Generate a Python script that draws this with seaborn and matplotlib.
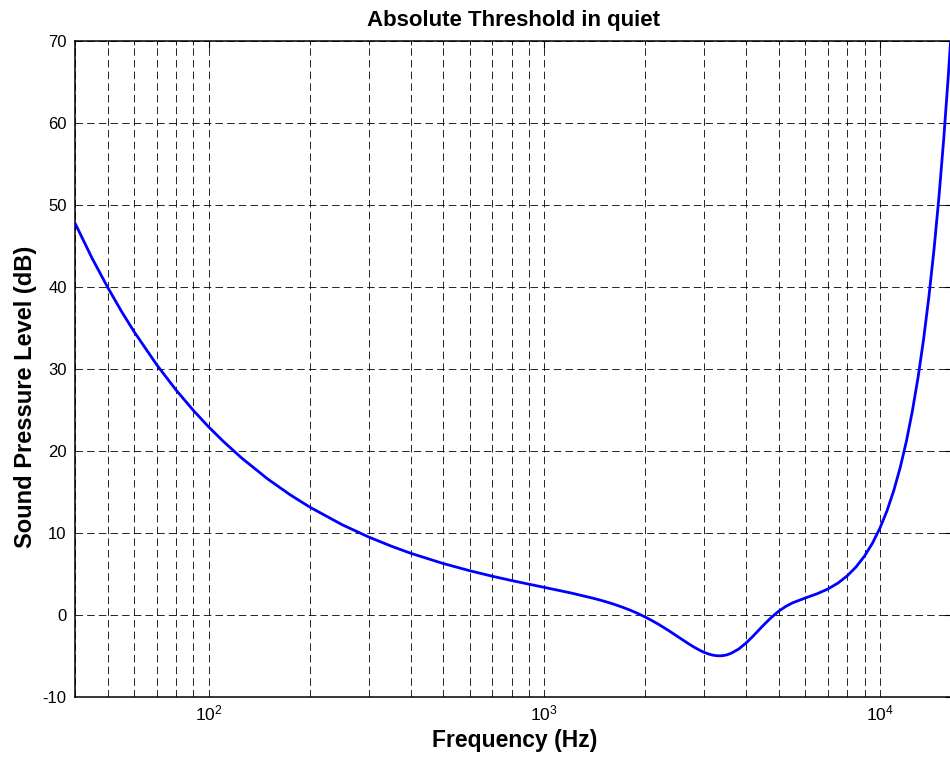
import matplotlib
matplotlib.use("Agg")
import matplotlib.pyplot as plt
import matplotlib.ticker as mticker
import seaborn as sns
import pandas as pd

# Frequencies (Hz) and threshold values (dB SPL)
freq_hz = [40, 45, 50, 55, 60, 70, 80, 90, 100, 110, 125, 150, 175, 200, 250,
           300, 350, 400, 500, 600, 700, 800, 900, 1000, 1200, 1400, 1500, 1600,
           1700, 1800, 1900, 2000, 2100, 2200, 2350, 2500, 2600, 2700, 2800,
           2900, 3000, 3100, 3200, 3300, 3400, 3500, 3600, 3800, 4000, 4200,
           4500, 4750, 5000, 5250, 5500, 6000, 6500, 7000, 7500, 8000, 8500,
           9000, 9500, 10000, 10500, 11000, 11500, 12000, 12500, 13000, 13500,
           14000, 14500, 15000, 15500, 16000, 16200, 16400]
threshold_db = [47.79, 43.49, 39.99, 37.04, 34.55, 30.54, 27.44, 24.97, 22.95,
                21.27, 19.20, 16.59, 14.66, 13.17, 11.01, 9.51, 8.40, 7.53, 6.28,
                5.40, 4.73, 4.20, 3.76, 3.37, 2.69, 2.04, 1.71, 1.36, 0.99, 0.60,
                0.19, -0.25, -0.71, -1.18, -1.91, -2.64, -3.10, -3.54, -3.94,
                -4.28, -4.57, -4.78, -4.92, -4.98, -4.96, -4.86, -4.68, -4.14,
                -3.39, -2.53, -1.24, -0.29, 0.48, 1.06, 1.49, 2.08, 2.59, 3.17,
                3.89, 4.79, 5.88, 7.19, 8.75, 10.58, 12.71, 15.18, 18.01, 21.23,
                24.90, 29.03, 33.67, 38.86, 44.63, 51.04, 58.13, 65.93, 69.27,
                72.73]

y_ticks = [-10, 0, 10, 20, 30, 40, 50, 60, 70]
title = "Absolute Threshold in quiet"
x_label = "Frequency (Hz)"
y_label = "Sound Pressure Level (dB)"

sns.set_style("white")
plt.rcParams['font.family'] = ['Liberation Sans', 'DejaVu Sans']
plt.rcParams['axes.unicode_minus'] = False
plt.rcParams['text.color'] = 'black'
plt.rcParams['xtick.color'] = 'black'
plt.rcParams['ytick.color'] = 'black'
plt.rcParams['axes.labelcolor'] = 'black'

df = pd.DataFrame({"f": freq_hz, "t": threshold_db})

W, H = 950, 760
left, right, top, bottom = 75, 952, 41, 697
fig = plt.figure(figsize=(W / 100, H / 100), dpi=100)
ax = fig.add_axes([left / W, 1 - bottom / H, (right - left) / W, (bottom - top) / H])
sns.lineplot(data=df, x="f", y="t", ax=ax, color=(0, 0, 1), linewidth=2.0, zorder=3)
ax.set_xscale("log")
ax.set_xlim(40, 16400)
ax.set_ylim(-10, 70)
ax.set_yticks(y_ticks)
ax.xaxis.set_major_locator(mticker.LogLocator(base=10, numticks=10))
ax.xaxis.set_minor_locator(mticker.LogLocator(base=10, subs=range(2, 10), numticks=20))
ax.xaxis.set_minor_formatter(mticker.NullFormatter())

dash = (0, (9, 5))
ax.grid(True, which="major", axis="both", color="black", linestyle=dash, linewidth=0.6)
ax.grid(True, which="minor", axis="x", color="black", linestyle=dash, linewidth=0.6)
ax.set_axisbelow(True)

ax.tick_params(axis="both", which="both", direction="in", labelsize=12, color="black",
               top=True, right=True, pad=6)
ax.tick_params(axis="x", which="major", labelsize=12.5, pad=5)
ax.tick_params(axis="both", which="major", length=5)
ax.tick_params(axis="x", which="minor", length=3)
for s in ax.spines.values():
    s.set_visible(True)
    s.set_color("black")
    s.set_linewidth(1.1)

ax.set_title(title, fontsize=16, fontweight="bold", pad=10.5)
ax.set_xlabel(x_label, fontsize=16.5, fontweight="bold")
ax.set_ylabel(y_label, fontsize=17, fontweight="bold")
ax.xaxis.set_label_coords((514.5 - left) / (right - left), (bottom - 729) / (bottom - top))
ax.yaxis.set_label_coords((37 - left) / (right - left), (bottom - 397) / (bottom - top))

fig.savefig("out.png", dpi=100)
